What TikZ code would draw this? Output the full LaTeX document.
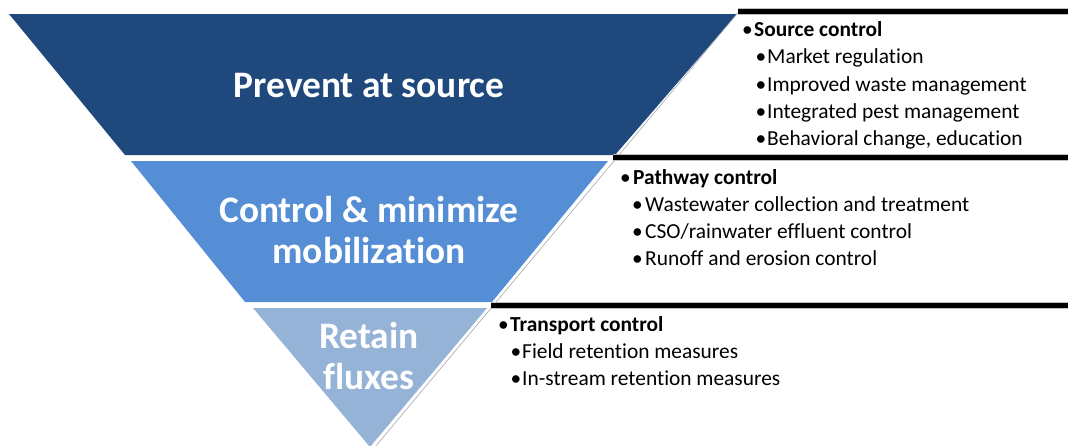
\documentclass[tikz,border=0pt]{standalone}
\usepackage{fontspec}
\setmainfont[Ligatures=NoCommon]{Carlito}
\definecolor{bandA}{RGB}{31,73,125}
\definecolor{bandB}{RGB}{85,142,213}
\definecolor{bandC}{RGB}{149,179,215}
\begin{document}
\begin{tikzpicture}[x=1pt,y=-1pt,
  bigtxt/.style={text=white,font=\fontsize{37.4}{42}\selectfont\bfseries,inner sep=0,anchor=base},
  hdr/.style={font=\fontsize{21.4}{25}\selectfont\bfseries,inner sep=0,anchor=base west},
  itm/.style={font=\fontsize{21.4}{25}\selectfont,inner sep=0,anchor=base west},
  blt/.style={font=\fontsize{21.4}{25}\selectfont,inner sep=0,anchor=base},
  rulebar/.style={line width=5pt,black},
  rulehalo/.style={line width=7pt,black!25},
  edgeline/.style={line width=0.6pt,black!35}]
\useasboundingbox (0,0) rectangle (1068,445);
% bands
\fill[bandA] (9,14) -- (737,14) -- (615,155) -- (125,155) -- cycle;
\fill[bandB] (131,161) -- (608,161) -- (492,302) -- (245,302) -- cycle;
\fill[bandC] (253,308) -- (487,308) -- (370,447) -- cycle;
% thin edge line
\coordinate (e1) at (741,9);
\coordinate (e2) at (375,447);
\draw[edgeline] (e1) -- (e2);
% rules
\coordinate (r1a) at (738,11.5);  \coordinate (r1b) at (1068,11.5);
\coordinate (r2a) at (613,157.5); \coordinate (r2b) at (1068,157.5);
\coordinate (r3a) at (491,305);   \coordinate (r3b) at (1068,305);
\foreach \a/\b in {r1a/r1b,r2a/r2b,r3a/r3b}{
  \draw[rulehalo] (\a) -- (\b);
  \draw[rulebar] (\a) -- (\b);
}
% big labels
\node[bigtxt] (t1) at (369,97) {Prevent at source};
\node[bigtxt] (t2a) at (369,222) {Control \& minimize};
\node[bigtxt] (t2b) at (369,263.5) {mobilization};
\node[bigtxt] (t3a) at (369,348.5) {Retain};
\node[bigtxt] (t3b) at (369,389.5) {fluxes};
% source control
\node[blt] (b1) at (747.5,36.5) {•};
\node[hdr] (h1) at (754,36.5) {Source control};
\node[blt] (b11) at (761,63.8) {•};
\node[itm] (i11) at (767,63.8) {Market regulation};
\node[blt] (b12) at (761,91.2) {•};
\node[itm] (i12) at (767,91.2) {Improved waste management};
\node[blt] (b13) at (761,118.3) {•};
\node[itm] (i13) at (767,118.3) {Integrated pest management};
\node[blt] (b14) at (761,145.3) {•};
\node[itm] (i14) at (767,145.3) {Behavioral change, education};
% pathway control
\node[blt] (b2) at (625.5,184.3) {•};
\node[hdr] (h2) at (633,184.3) {Pathway control};
\node[blt] (b21) at (637.5,211) {•};
\node[itm] (i21) at (645,211) {Wastewater collection and treatment};
\node[blt] (b22) at (637.5,238.3) {•};
\node[itm] (i22) at (645,238.3) {CSO/rainwater effluent control};
\node[blt] (b23) at (637.5,265.3) {•};
\node[itm] (i23) at (645,265.3) {Runoff and erosion control};
% transport control
\node[blt] (b3) at (503.5,331.8) {•};
\node[hdr] (h3) at (510,331.8) {Transport control};
\node[blt] (b31) at (516,358.5) {•};
\node[itm] (i31) at (522,358.5) {Field retention measures};
\node[blt] (b32) at (516,385.2) {•};
\node[itm] (i32) at (522,385.2) {In-stream retention measures};
\end{tikzpicture}
\end{document}
